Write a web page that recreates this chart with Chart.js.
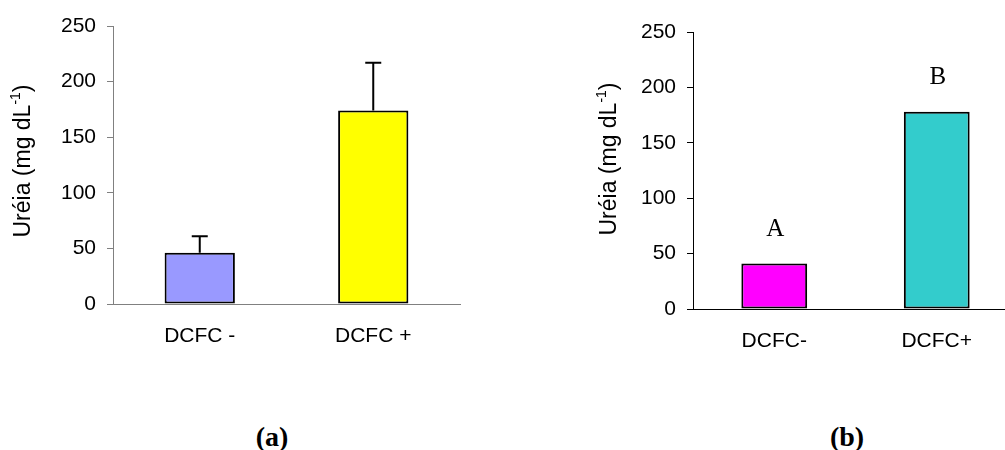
<!DOCTYPE html>
<html>
<head>
<meta charset="utf-8">
<script src="https://cdn.jsdelivr.net/npm/chart.js@4"></script>
<style>
  body { margin: 0; background: #fff; width: 1005px; height: 450px; overflow: hidden; position: relative; }
  canvas { position: absolute; top: 0; }
  #chart-a { left: 0; }
  #chart-b { left: 580px; }
  .caption { position: absolute; top: 421px; font: bold 28px "Liberation Serif", "Times New Roman", serif; transform: translateX(-50%); }
</style>
</head>
<body>
<canvas id="chart-a" width="480" height="380"></canvas>
<canvas id="chart-b" width="450" height="380"></canvas>
<div class="caption" style="left:272px">(a)</div>
<div class="caption" style="left:847px">(b)</div>
<script>
const categoriesA = ["DCFC -", "DCFC +"];
const ureiaA = [46, 174];
const errorA = [15, 43];
const coloursA = ["#9999ff", "#ffff00"];

const categoriesB = ["DCFC-", "DCFC+"];
const ureiaB = [41, 178];
const lettersB = ["A", "B"];
const coloursB = ["#ff00ff", "#33cccc"];

const yMin = 0;
const yMax = 250;
const yStep = 50;

const font = "'Liberation Sans', Arial, sans-serif";

// error bars (only chart a), letters (only chart b), rotated y title with superscript
const extras = {
  id: "extras",
  afterDatasetsDraw(chart, args, opts) {
    const ctx = chart.ctx;
    const meta = chart.getDatasetMeta(0);
    const y = chart.scales.y;
    ctx.save();
    if (opts.errors) {
      ctx.strokeStyle = "#000";
      ctx.lineWidth = 2;
      meta.data.forEach((bar, i) => {
        const top = y.getPixelForValue(chart.data.datasets[0].data[i] + opts.errors[i]);
        ctx.beginPath();
        ctx.moveTo(bar.x, bar.y);
        ctx.lineTo(bar.x, top);
        ctx.moveTo(bar.x - 8, top);
        ctx.lineTo(bar.x + 8, top);
        ctx.stroke();
      });
    }
    if (opts.letters) {
      ctx.fillStyle = "#000";
      ctx.font = "25px 'Liberation Serif', 'Times New Roman', serif";
      ctx.textAlign = "center";
      ctx.textBaseline = "middle";
      meta.data.forEach((bar, i) => {
        ctx.fillText(opts.letters[i], bar.x + 1, bar.y - 34);
      });
    }
    // y axis title
    const main = "Uréia (mg dL";
    const sup = "-1";
    const end = ")";
    ctx.translate(opts.titleX, opts.titleY);
    ctx.rotate(-Math.PI / 2);
    ctx.fillStyle = "#000";
    ctx.textBaseline = "middle";
    ctx.textAlign = "left";
    ctx.font = "23px " + font;
    const w1 = ctx.measureText(main).width;
    const w3 = ctx.measureText(end).width;
    ctx.font = "14px " + font;
    const w2 = ctx.measureText(sup).width;
    let x = -(w1 + w2 + w3) / 2;
    ctx.font = "23px " + font;
    ctx.fillText(main, x, 0);
    x += w1;
    ctx.font = "14px " + font;
    ctx.fillText(sup, x, -8);
    x += w2;
    ctx.font = "23px " + font;
    ctx.fillText(end, x, 0);
    ctx.restore();
  },
};

function createChart(elementID, labels, values, colours, axisColour, pad, xHeight, extraOpts) {
  const ctx = document.getElementById(elementID).getContext("2d");
  return new Chart(ctx, {
    type: "bar",
    data: {
      labels,
      datasets: [
        {
          data: values,
          backgroundColor: colours,
          borderColor: "#000",
          borderWidth: 2,
          borderSkipped: false,
          categoryPercentage: 1,
          barPercentage: 0.405,
        },
      ],
    },
    options: {
      responsive: false,
      animation: false,
      layout: { padding: pad },
      scales: {
        x: {
          grid: { display: false },
          border: { display: true, color: axisColour, width: 1 },
          ticks: { color: "#000", font: { size: 21, family: font }, padding: 12, maxRotation: 0 },
          afterFit(scale) { scale.height = xHeight; },
        },
        y: {
          min: yMin,
          max: yMax,
          grid: { drawOnChartArea: false, drawTicks: true, tickLength: 6, color: axisColour },
          border: { display: true, color: axisColour, width: 1 },
          ticks: { stepSize: yStep, color: "#000", font: { size: 21, family: font }, padding: 11 },
          afterFit(scale) { scale.width = 113; },
        },
      },
      plugins: {
        legend: { display: false },
        tooltip: { enabled: false },
        extras: extraOpts,
      },
    },
    plugins: [extras],
  });
}

const chartA = createChart("chart-a", categoriesA, ureiaA, coloursA, "#808080",
  { left: 0, right: 20, top: 26, bottom: 0 }, 76,
  { errors: errorA, titleX: 24, titleY: 161 });
const chartB = createChart("chart-b", categoriesB, ureiaB, coloursB, "#000",
  { left: 0, right: 12, top: 32, bottom: 0 }, 71,
  { letters: lettersB, titleX: 30, titleY: 159 });
</script>
</body>
</html>
